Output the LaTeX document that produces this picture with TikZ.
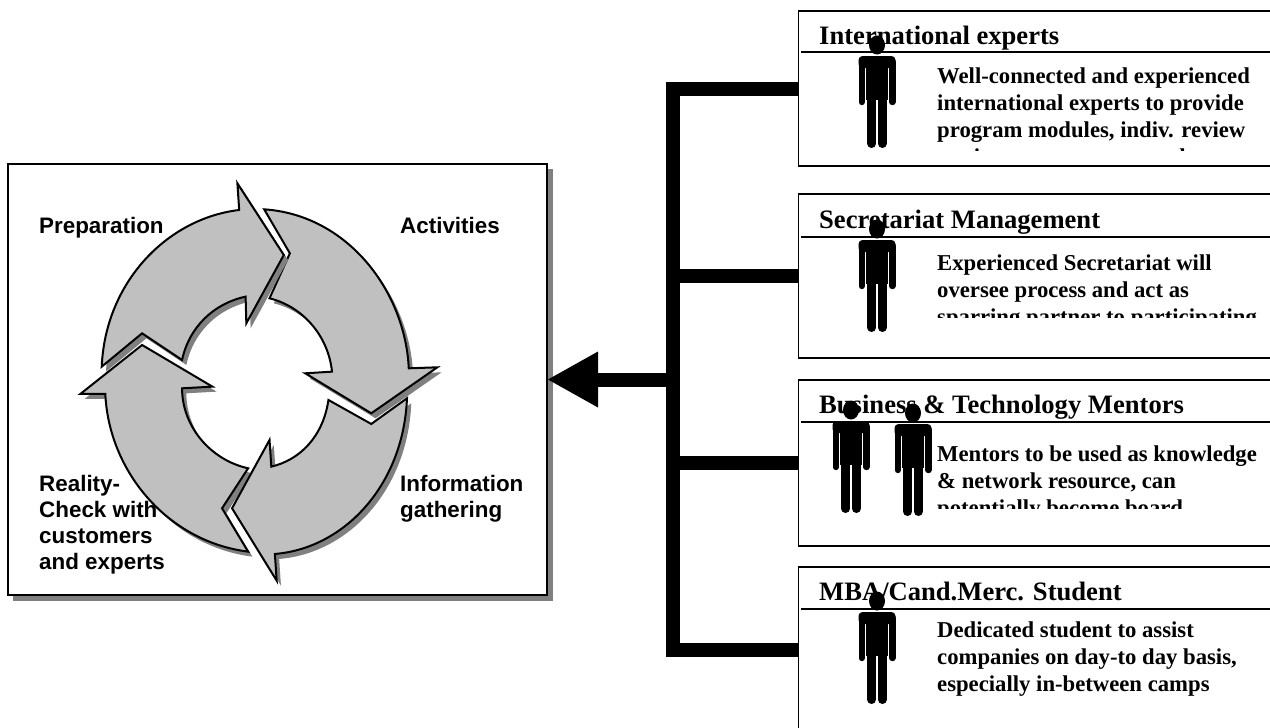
\documentclass[tikz,border=0pt]{standalone}
\usepackage{fontspec}
\setmainfont{Liberation Serif}
\setsansfont{Liberation Sans}
\usetikzlibrary{arrows.meta}
\newcommand{\firstline}{\rule{0pt}{15pt}}
\newcommand{\prepPath}{(510,630) .. controls (530,530) and (600,460) .. (688,440) -- (690,520) -- (795,315) -- (665,100) -- (670,180) .. controls (470,205) and (295,395) .. (285,650) -- (398,550) -- cycle}
\newcommand{\actPath}{(740,178) .. controls (975,195) and (1135,425) .. (1145,655) -- (1225,652) -- (1040,790) -- (855,670) -- (930,665) .. controls (920,560) and (850,470) .. (755,445) -- (812,310) -- cycle}
\newcommand{\infoPath}{(1140,745) .. controls (1130,1005) and (965,1195) .. (770,1212) -- (775,1292) -- (650,1075) -- (755,870) -- (760,950) .. controls (840,930) and (905,860) .. (920,750) -- (1040,822) -- cycle}
\newcommand{\realPath}{(695,1205) .. controls (470,1175) and (305,965) .. (295,732) -- (225,732) -- (398,585) -- (595,710) -- (510,715) .. controls (510,830) and (590,930) .. (695,955) -- (622,1075) -- cycle}
\definecolor{arrowgray}{HTML}{C0C0C0}
\definecolor{shadowgray}{HTML}{808080}
\tikzset{
  x=1pt,y=-1pt,
  panel/.style={draw=black,line width=1.5pt,fill=white,rectangle,inner sep=0pt,outer sep=0pt,anchor=north west,minimum width=480pt},
  cyclebox/.style={draw=black,line width=1.5pt,fill=white,rectangle,inner sep=0pt,outer sep=0pt,anchor=north west,minimum width=539pt,minimum height=431pt},
  bar/.style={line width=14pt,black},
  cyc/.style={fill=arrowgray,draw=black,line width=2pt,line join=miter},
  cycshadow/.style={fill=shadowgray},
  phase/.style={font=\sffamily\bfseries\fontsize{22.4}{26}\selectfont,inner sep=0pt,anchor=north west,align=left},
  head/.style={font=\bfseries\fontsize{26.6}{30}\selectfont,inner sep=0pt,anchor=base west},
  body/.style={font=\bfseries\fontsize{22.7}{27}\selectfont,inner sep=0pt,anchor=north west,align=left},
  rule/.style={line width=1.5pt,black},
  person/.pic={
    \fill[black] (0,-103) ellipse (8 and 9.5);
    \fill[black,rounded corners=4pt] (-18.5,-80) rectangle (18.5,-92);
    \fill[black] (-11,-92) rectangle (11,-48);
    \draw[black,line width=6.4pt,line cap=round] (-15.3,-86) -- (-15.3,-46);
    \draw[black,line width=6.4pt,line cap=round] (15.3,-86) -- (15.3,-46);
    \draw[black,line width=8.8pt,line cap=round] (-5.3,-50) -- (-5.3,-4.4);
    \draw[black,line width=8.8pt,line cap=round] (5.3,-50) -- (5.3,-4.4);
  }
}
\begin{document}
\begin{tikzpicture}
\useasboundingbox (0,0) rectangle (1270,728);
\clip (0,0) rectangle (1270,728);
\fill[white] (0,0) rectangle (1270,728);

% left panel
\fill[shadowgray] (13,169) rectangle (553,601);
\node[cyclebox] (cycle) at (8,164) {};

\begin{scope}[shift={(0,150)},xscale=0.357,yscale=0.3333]
  \fill[cycshadow,shift={(12,15)}] \realPath;
  \fill[cycshadow,shift={(12,15)}] \infoPath;
  \fill[cycshadow,shift={(12,15)}] \actPath;
  \path[cyc] \actPath;
  \path[cyc] \infoPath;
  \path[cyc] \realPath;
  \fill[cycshadow,shift={(12,15)}] \prepPath;
  \path[cyc] \prepPath;
\end{scope}

\node[phase] (lprep) at (39,216.7) {\firstline Preparation};
\node[phase] (lact) at (400,216.7) {\firstline Activities};
\node[phase] (linfo) at (400,475) {\firstline Information\\gathering};
\node[phase] (lreal) at (39,475) {\firstline Reality-\\Check with\\customers\\and experts};

% right panels
\node[panel,minimum height=155pt] (b1) at (798.5,11) {};
\node[panel,minimum height=164pt] (b2) at (798.5,194) {};
\node[panel,minimum height=166pt] (b3) at (798.5,380) {};
\node[panel,minimum height=180pt] (b4) at (798.5,567) {};

\coordinate (j1) at (672.5,89);
\coordinate (j2) at (672.5,276);
\coordinate (j3) at (672.5,463);
\coordinate (j4) at (672.5,650);
\coordinate (j0) at (672.5,379.5);
\draw[bar,line cap=rect] (j1) -- (j4);
\draw[bar] (j1) -- (j1 -| b1.west);
\draw[bar] (j2) -- (j2 -| b2.west);
\draw[bar] (j3) -- (j3 -| b3.west);
\draw[bar] (j4) -- (j4 -| b4.west);
\draw[bar,-{Triangle[length=51pt,width=52pt]}] (j0) -- (j0 -| cycle.east);

\draw[rule] (801,52) -- (1272,52);
\draw[rule] (801,237) -- (1272,237);
\draw[rule] (801,422) -- (1272,422);
\draw[rule] (801,609) -- (1272,609);

\node[head] (h1) at (819,45) {International experts};
\node[head] (h2) at (819,228) {Secretariat Management};
\node[head] (h3) at (819,413) {Business \& Technology Mentors};
\node[head] (h4) at (819,600) {MBA/Cand.Merc. Student};

\begin{scope}
  \clip (930,60) rectangle (1270,150);
  \node[body] (t1) at (937,68) {\firstline Well-connected and experienced\\international experts to provide\\program modules, indiv. review\\sessions, support, network};
\end{scope}
\begin{scope}
  \clip (930,245) rectangle (1270,317);
  \node[body] (t2) at (937,255) {\firstline Experienced Secretariat will\\oversee process and act as\\sparring partner to participating};
\end{scope}
\begin{scope}
  \clip (930,430) rectangle (1270,508);
  \node[body] (t3) at (937,446) {\firstline Mentors to be used as knowledge\\\& network resource, can\\potentially become board};
\end{scope}
\node[body] (t4) at (937,622) {\firstline Dedicated student to assist\\companies on day-to day basis,\\especially in-between camps};

\pic (p1) at (877,148) {person};
\pic (p2) at (877,332) {person};
\pic (p3) at (851,513) {person};
\pic (p4) at (913,516) {person};
\pic (p5) at (877,704) {person};
\end{tikzpicture}
\end{document}
